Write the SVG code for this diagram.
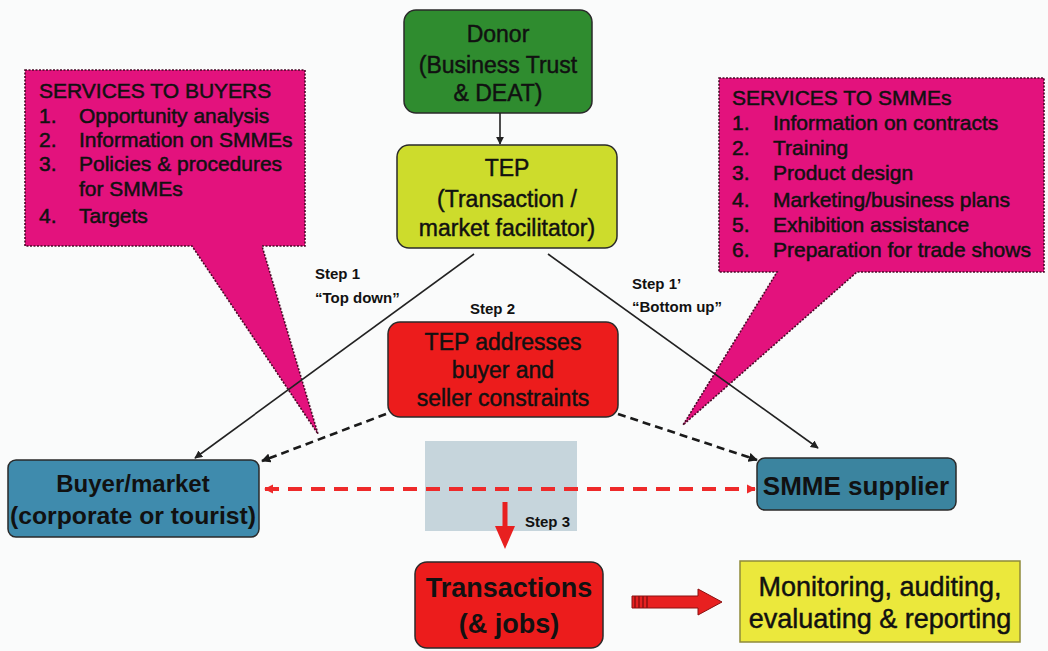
<svg xmlns="http://www.w3.org/2000/svg" width="1048" height="651" viewBox="0 0 1048 651">
<defs>
<style>
text{font-family:"Liberation Sans",Arial,sans-serif;fill:#111;}
.c{text-anchor:middle;}
.co{font-size:21px;stroke:#111;stroke-width:0.5;}
.rt{stroke:#111;stroke-width:0.45;}
.lbl{font-size:15px;font-weight:bold;}
.box{stroke:#2a2a2a;stroke-width:1.5;}
.bold{font-weight:bold;}
.callout{fill:#e3127d;stroke:#4a0a28;stroke-width:1.6;stroke-dasharray:2 1.5;}
.solid{stroke:#222;stroke-width:1.6;fill:none;}
.dash{stroke:#1a1a1a;stroke-width:2.6;stroke-dasharray:8 5;fill:none;}
.rdash{stroke:#ee2a2a;stroke-width:4;stroke-dasharray:14 9;fill:none;}
</style>
<marker id="ah" viewBox="0 0 10 10" refX="9" refY="5" markerWidth="5" markerHeight="5" orient="auto-start-reverse"><path d="M0,0 L10,5 L0,10 z" fill="#222"/></marker>
<marker id="ahd" viewBox="0 0 10 10" refX="9" refY="5" markerWidth="3.6" markerHeight="3.6" orient="auto-start-reverse"><path d="M0,0 L10,5 L0,10 z" fill="#1a1a1a"/></marker>
<marker id="ahr" viewBox="0 0 10 10" refX="9" refY="5" markerWidth="2.3" markerHeight="2.3" orient="auto-start-reverse"><path d="M0,0 L10,5 L0,10 z" fill="#ee2a2a"/></marker>
</defs>
<rect width="1048" height="651" fill="#fafbfb"/>

<g id="callout-buyers">
<path class="callout" d="M25,70 H305 V246 H262 L318,434 L192,246 H25 Z"/>
<text class="co" x="39" y="98">SERVICES TO BUYERS</text>
<text class="co" x="39" y="123">1.</text><text class="co" x="79" y="123">Opportunity analysis</text>
<text class="co" x="39" y="147">2.</text><text class="co" x="79" y="147">Information on SMMEs</text>
<text class="co" x="39" y="171">3.</text><text class="co" x="79" y="171">Policies &amp; procedures</text>
<text class="co" x="79" y="196">for SMMEs</text>
<text class="co" x="39" y="223">4.</text><text class="co" x="79" y="223">Targets</text>
</g>

<g id="callout-smmes">
<path class="callout" d="M719,78 H1044 V272 H857 L683,425 L777,272 H719 Z"/>
<text class="co" x="732" y="105">SERVICES TO SMMEs</text>
<text class="co" x="732" y="130">1.</text><text class="co" x="773" y="130">Information on contracts</text>
<text class="co" x="732" y="155">2.</text><text class="co" x="773" y="155">Training</text>
<text class="co" x="732" y="180">3.</text><text class="co" x="773" y="180">Product design</text>
<text class="co" x="732" y="207">4.</text><text class="co" x="773" y="207">Marketing/business plans</text>
<text class="co" x="732" y="232">5.</text><text class="co" x="773" y="232">Exhibition assistance</text>
<text class="co" x="732" y="257">6.</text><text class="co" x="773" y="257">Preparation for trade shows</text>
</g>

<rect id="highlight" x="425" y="441" width="152" height="90" fill="#c6d5dc"/>

<g id="donor">
<rect class="box" x="404" y="10" width="188" height="103" rx="12" fill="#2f8c2f"/>
<text class="c rt" x="498" y="42" font-size="23">Donor</text>
<text class="c rt" x="498" y="73" font-size="23">(Business Trust</text>
<text class="c rt" x="498" y="101" font-size="23">&amp; DEAT)</text>
</g>

<g id="tep">
<rect class="box" x="397" y="145" width="220" height="103" rx="12" fill="#cddc2c"/>
<text class="c rt" x="507" y="176" font-size="23">TEP</text>
<text class="c rt" x="507" y="207" font-size="23">(Transaction /</text>
<text class="c rt" x="507" y="236" font-size="23">market facilitator)</text>
</g>

<g id="tep-addresses">
<rect class="box" x="388" y="322" width="230" height="95" rx="12" fill="#ec1c1c"/>
<text class="c rt" x="503" y="350" font-size="23">TEP addresses</text>
<text class="c rt" x="503" y="378" font-size="23">buyer and</text>
<text class="c rt" x="503" y="406" font-size="23">seller constraints</text>
</g>

<g id="buyer">
<rect class="box" x="8" y="460" width="251" height="77" rx="8" fill="#3f8bad"/>
<text class="c bold" x="133" y="492" font-size="24">Buyer/market</text>
<text class="c bold" x="133" y="524" font-size="24" textLength="246" lengthAdjust="spacingAndGlyphs">(corporate or tourist)</text>
</g>

<g id="smme">
<rect class="box" x="757" y="458" width="199" height="52" rx="8" fill="#3b849f"/>
<text class="c bold" x="856" y="495" font-size="26">SMME supplier</text>
</g>

<g id="transactions">
<rect class="box" x="415" y="562" width="188" height="86" rx="12" fill="#ec1c1c"/>
<text class="c bold" x="509" y="597" font-size="27">Transactions</text>
<text class="c bold" x="509" y="633" font-size="27">(&amp; jobs)</text>
</g>

<g id="monitoring">
<rect x="740" y="561" width="280" height="81" fill="#ebe83c" stroke="#8f8a3a" stroke-width="1.5"/>
<text class="c rt" x="880" y="596" font-size="27">Monitoring, auditing,</text>
<text class="c rt" x="880" y="628" font-size="27">evaluating &amp; reporting</text>
</g>

<g id="connectors">
<line class="solid" x1="500" y1="113" x2="500" y2="144" marker-end="url(#ah)"/>
<line class="solid" x1="474" y1="254" x2="195" y2="458" marker-end="url(#ah)"/>
<line class="solid" x1="548" y1="254" x2="818" y2="448" marker-end="url(#ah)"/>
<line class="dash" x1="386" y1="414" x2="262" y2="461" marker-end="url(#ahd)"/>
<line class="dash" x1="618" y1="414" x2="757" y2="460" marker-end="url(#ahd)"/>
<line class="rdash" x1="265" y1="489" x2="755" y2="489" marker-start="url(#ahr)" marker-end="url(#ahr)"/>
<path d="M502.5,502 H507.5 V526 H515 L505,549 L495,526 H502.5 Z" fill="#e82020"/>
<g id="fat-arrow">
<path d="M632,596 H698 V589 L722,602 L698,615 V608 H632 Z" fill="#e82020" stroke="#8a1010" stroke-width="1"/>
<path d="M635,596 V608 M639,596 V608 M643,596 V608 M647,596 V608" stroke="#8a1010" stroke-width="1.5"/>
</g>
</g>

<g id="labels">
<text class="lbl" x="315" y="279">Step 1</text>
<text class="lbl" x="315" y="303">“Top down”</text>
<text class="lbl" x="470" y="314">Step 2</text>
<text class="lbl" x="632" y="289">Step 1’</text>
<text class="lbl" x="632" y="312">“Bottom up”</text>
<text class="lbl" x="525" y="527">Step 3</text>
</g>
</svg>
